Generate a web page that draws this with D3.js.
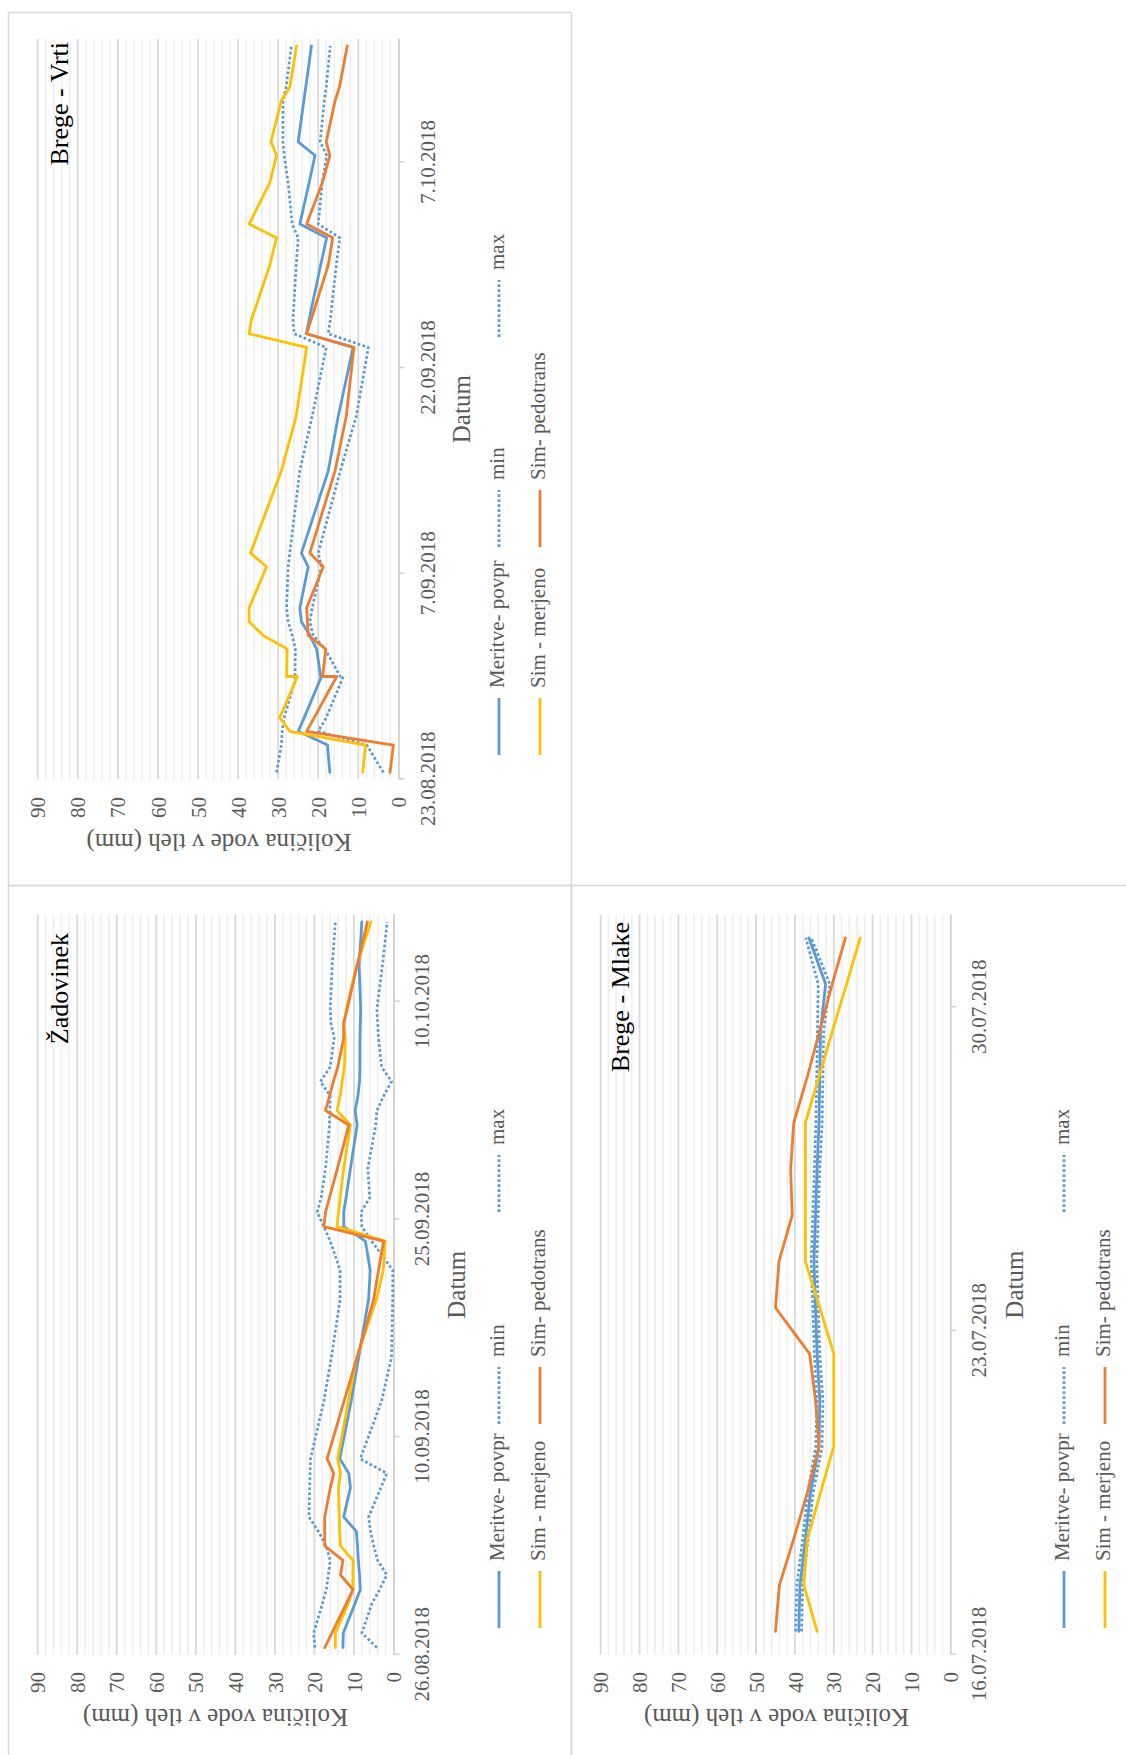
<!DOCTYPE html>
<html>
<head>
<meta charset="utf-8">
<script src="https://cdn.jsdelivr.net/npm/d3@7"></script>
<style>
  html, body { margin: 0; padding: 0; background: #fff; }
  svg { display: block; }
</style>
</head>
<body>
<svg id="chart" width="1126" height="1755"></svg>
<script>
// ---------- data: Brege - Vrti ----------
const vrtiDates = ["23.08.2018","25.08.2018","26.08.2018","27.08.2018","30.08.2018","30.08.2018","1.09.2018","2.09.2018","3.09.2018","4.09.2018","7.09.2018","8.09.2018","14.09.2018","18.09.2018","23.09.2018","24.09.2018","25.09.2018","29.09.2018","1.10.2018","2.10.2018","5.10.2018","7.10.2018","8.10.2018","11.10.2018","12.10.2018","15.10.2018"];
const vrtiPovpr     = [17.1,17.7,25.0,23.5,19.2,19.4,20.4,22.1,24.2,24.6,22.5,24.2,17.5,15.0,11.3,23.0,22.3,19.4,17.9,24.6,22.3,20.8,25.0,23.6,23.1,21.7];
const vrtiMin       = [3.75,7.9,20.0,18.0,13.75,14.5,18.3,21.25,22.1,21.5,19.2,20.0,14.5,10.5,7.5,17.5,17.0,15.5,14.6,20.0,19.0,17.9,19.5,18.5,18.0,17.0];
const vrtiMax       = [30.4,29.2,29.0,28.5,25.5,25.8,25.7,26.5,27.5,27.9,27.5,27.1,24.6,21.5,18.0,26.0,26.3,25.5,25.0,26.5,27.5,28.5,28.8,28.8,28.0,26.7];
const vrtiMerjeno   = [8.9,8.2,27.1,29.6,25.2,27.9,27.75,33.75,37.25,37.25,32.9,36.9,29.2,25.5,22.9,37.25,36.7,32.1,30.4,37.25,32.1,30.4,31.8,29.2,27.1,25.4];
const vrtiPedotrans = [2.1,1.25,22.9,21.0,15.4,18.9,18.1,22.5,22.7,22.9,18.75,22.1,15.8,13.0,11.1,22.9,21.8,17.5,16.4,22.9,19.0,17.1,18.0,15.8,14.7,12.75];
const vrtiTicks = ["23.08.2018","7.09.2018","22.09.2018","7.10.2018"];

// ---------- data: Žadovinek ----------
const zadDates = ["26.08.2018","27.08.2018","29.08.2018","30.08.2018","31.08.2018","1.09.2018","2.09.2018","3.09.2018","4.09.2018","6.09.2018","7.09.2018","8.09.2018","12.09.2018","15.09.2018","19.09.2018","21.09.2018","23.09.2018","24.09.2018","25.09.2018","26.09.2018","28.09.2018","1.10.2018","2.10.2018","3.10.2018","4.10.2018","5.10.2018","7.10.2018","8.10.2018","9.10.2018","12.10.2018","15.10.2018"];
const zadPovpr     = [12.8,12.7,9.8,8.4,8.6,8.9,9.1,9.4,12.6,10.9,11.3,13.6,10.7,8.8,6.3,5.9,7.1,12.6,12.6,12.0,10.9,9.2,9.7,9.0,8.6,8.5,8.5,8.4,8.3,8.7,8.0];
const zadMin       = [4.2,8.0,5.5,3.5,1.7,4.0,5.0,5.8,6.3,3.2,1.7,8.4,3.0,0.5,0.2,0.2,5.5,8.0,8.2,6.0,6.5,4.5,4.2,2.5,0.5,3.0,3.8,4.0,4.2,2.8,1.6];
const zadMax       = [19.9,20.2,18.0,17.0,16.5,16.0,17.0,19.0,21.4,21.2,21.1,21.0,17.6,15.7,13.5,13.5,16.0,17.6,19.3,18.3,17.2,16.2,16.1,16.0,18.5,16.0,15.0,15.8,16.0,15.5,14.7];
const zadMerjeno   = [14.7,14.7,11.5,10.25,10.25,10.25,13.4,13.6,13.7,13.9,13.4,14.1,11.4,9.3,4.3,2.6,2.1,14.3,13.9,13.5,12.6,10.9,14.3,13.5,13.0,12.4,12.2,12.6,11.9,9.3,5.7];
const zadPedotrans = [17.4,15.6,12.0,10.25,13.4,12.8,17.4,17.4,17.4,16.0,15.1,16.8,12.5,9.2,5.0,3.8,2.5,17.6,17.2,16.2,14.2,11.3,17.2,16.2,15.2,14.1,12.6,12.6,11.7,9.2,6.6];
const zadTicks = ["26.08.2018","10.09.2018","25.09.2018","10.10.2018"];

// ---------- data: Brege - Mlake ----------
const mlakeDates = ["16.07.2018","17.07.2018","18.07.2018","19.07.2018","20.07.2018","21.07.2018","22.07.2018","23.07.2018","24.07.2018","25.07.2018","26.07.2018","27.07.2018","28.07.2018","29.07.2018","30.07.2018","31.07.2018"];
const mlakePovpr     = [39.0,38.7,37.3,36.0,33.8,33.6,34.3,34.7,35.1,34.7,34.3,33.8,33.6,33.4,32.1,36.4];
const mlakeMin       = [38.3,38.0,36.6,35.3,33.0,32.8,33.6,34.0,34.4,34.0,33.6,33.0,32.8,32.6,31.0,35.8];
const mlakeMax       = [39.8,39.5,38.0,36.7,34.6,34.4,35.0,35.4,35.8,35.4,35.0,34.6,34.4,34.2,34.0,37.2];
const mlakeMerjeno   = [34.3,37.7,36.8,33.4,30.0,30.0,30.0,33.6,37.3,37.3,37.3,37.3,33.8,30.3,26.7,23.2];
const mlakePedotrans = [45.0,44.0,40.3,36.8,33.8,34.7,36.2,45.0,44.1,40.7,41.1,40.3,36.8,33.6,30.4,27.0];
const mlakeTicks = ["16.07.2018","23.07.2018","30.07.2018"];

// shared
const valueTicks = [0,10,20,30,40,50,60,70,80,90];
const seriesNames = ["Meritve- povpr","min","max","Sim - merjeno","Sim- pedotrans"];
const yTitle = "Količina vode v tleh (mm)";
const xTitle = "Datum";

// ---------- helpers ----------
const parseDate = s => { const [d, m, y] = s.split(".").map(Number); return new Date(Date.UTC(y, m - 1, d)); };
const HALF_DAY = 12 * 3600 * 1000;
const FONT = "'Liberation Serif','Times New Roman',serif";
const TEXT_GREY = "#595959";

const styles = {
  "Meritve- povpr": { color: "#5B9BD5", dash: null },
  "min":            { color: "#5B9BD5", dash: "2.7 2.3" },
  "max":            { color: "#5B9BD5", dash: "2.7 2.3" },
  "Sim - merjeno":  { color: "#FFC000", dash: null },
  "Sim- pedotrans": { color: "#ED7D31", dash: null }
};

// each panel is drawn upright inside a group that is turned a quarter turn
const panels = [
  {
    title: "Brege - Vrti", dates: vrtiDates, ticks: vrtiTicks, start: "23.08.2018", end: "16.10.2018",
    values: [vrtiPovpr, vrtiMin, vrtiMax, vrtiMerjeno, vrtiPedotrans],
    frame: { x: 8.5, y: 12.5, w: 563, h: 873 },
    lay: { left: 8, base: 884, u0: 104.7, u1: 845, v0: 390.4, v90: 29.7,
           titleEnd: 842, titleBase: 60, labU: 87, dateBase: 427, xTitleBase: 462,
           legRows: [496, 537], legCols: [129, 337, 547], yTitleU: 42, yTitleV: 211 }
  },
  {
    title: "Žadovinek", dates: zadDates, ticks: zadTicks, start: "26.08.2018", end: "16.10.2018",
    values: [zadPovpr, zadMin, zadMax, zadMerjeno, zadPedotrans],
    frame: { x: 8.5, y: 885.5, w: 563, h: 900 },
    lay: { left: 8, base: 1765, u0: 110.2, u1: 850.4, v0: 385.5, v90: 29.7,
           titleEnd: 832, titleBase: 60, labU: 93, dateBase: 421, xTitleBase: 457,
           legRows: [496, 537], legCols: [137, 341, 553], yTitleU: 48, yTitleV: 207.5 }
  },
  {
    title: "Brege - Mlake", dates: mlakeDates, ticks: mlakeTicks, start: "16.07.2018", end: "1.08.2018",
    values: [mlakePovpr, mlakeMin, mlakeMax, mlakeMerjeno, mlakePedotrans],
    frame: { x: 571.5, y: 885.5, w: 600, h: 900 },
    lay: { left: 571, base: 1765, u0: 110.5, u1: 850.3, v0: 379.3, v90: 29.7,
           titleEnd: 843, titleBase: 58, labU: 93, dateBase: 415, xTitleBase: 451.5,
           legRows: [498, 539], legCols: [137, 341, 553], yTitleU: 48, yTitleV: 205.5 }
  }
];

const svg = d3.select("#chart");

function drawPanel(p) {
  const L = p.lay;

  svg.append("rect")
    .attr("x", p.frame.x).attr("y", p.frame.y)
    .attr("width", p.frame.w).attr("height", p.frame.h)
    .attr("fill", "none").attr("stroke", "#d9d9d9").attr("stroke-width", 1.5);

  const g = svg.append("g").attr("transform", `translate(${L.left},${L.base}) rotate(-90)`);

  const x = d3.scaleUtc().domain([parseDate(p.start), parseDate(p.end)]).range([L.u0, L.u1]);
  const y = d3.scaleLinear().domain([0, 90]).range([L.v0, L.v90]);

  // horizontal grid: minor every 2, major every 10
  g.append("g").selectAll("line").data(d3.range(2, 91, 2)).join("line")
    .attr("x1", L.u0).attr("x2", L.u1)
    .attr("y1", d => y(d)).attr("y2", d => y(d))
    .attr("stroke", d => d % 10 === 0 ? "#d9d9d9" : "#f0f0f0")
    .attr("stroke-width", 1.8);

  // value axis labels
  const ya = g.append("g").attr("transform", `translate(${L.u0},0)`)
    .call(d3.axisLeft(y).tickValues(valueTicks).tickSize(0).tickPadding(L.u0 - L.labU));
  ya.select(".domain").remove();
  ya.selectAll("text")
    .attr("font-family", FONT).attr("font-size", 21).attr("fill", TEXT_GREY).attr("dy", "0.34em");

  // date axis
  const tickDates = p.ticks.map(parseDate);
  const xa = g.append("g").attr("transform", `translate(0,${L.v0})`)
    .call(d3.axisBottom(x).tickValues(tickDates).tickFormat((d, i) => p.ticks[i]).tickSize(6).tickSizeOuter(0));
  xa.select(".domain").attr("stroke", "#d0d0d0").attr("stroke-width", 1.8);
  xa.selectAll(".tick line").attr("stroke", "#d0d0d0").attr("stroke-width", 1.5);
  xa.selectAll(".tick text")
    .attr("y", L.dateBase - L.v0).attr("dy", 0)
    .attr("font-family", FONT).attr("font-size", 21).attr("fill", TEXT_GREY);

  // series
  const line = d3.line().x(d => x(d.t)).y(d => y(d.v));
  seriesNames.forEach((name, si) => {
    const pts = p.dates.map((d, i) => ({ t: new Date(parseDate(d).getTime() + HALF_DAY), v: p.values[si][i] }));
    const st = styles[name];
    g.append("path")
      .attr("d", line(pts))
      .attr("fill", "none")
      .attr("stroke", st.color)
      .attr("stroke-width", st.dash ? 2.7 : 2.8)
      .attr("stroke-linejoin", "round")
      .attr("stroke-linecap", st.dash ? "butt" : "round")
      .attr("stroke-dasharray", st.dash);
  });

  // panel title
  g.append("text")
    .attr("x", L.titleEnd).attr("y", L.titleBase)
    .attr("text-anchor", "end")
    .attr("font-family", FONT).attr("font-size", 26).attr("fill", "#000")
    .text(p.title);

  // axis titles
  g.append("text")
    .attr("x", (L.u0 + L.u1) / 2).attr("y", L.xTitleBase)
    .attr("text-anchor", "middle")
    .attr("font-family", FONT).attr("font-size", 25).attr("fill", TEXT_GREY)
    .text(xTitle);

  g.append("text")
    .attr("transform", `translate(${L.yTitleU},${L.yTitleV}) rotate(-90)`)
    .attr("text-anchor", "middle").attr("dy", "0.33em")
    .attr("font-family", FONT).attr("font-size", 25).attr("fill", TEXT_GREY)
    .text(yTitle);

  // legend: two rows, three columns
  const slots = [[0, 0], [0, 1], [0, 2], [1, 0], [1, 1]];
  seriesNames.forEach((name, i) => {
    const [r, c] = slots[i];
    const st = styles[name];
    const u = L.legCols[c], v = L.legRows[r];
    g.append("line")
      .attr("x1", u).attr("x2", u + 57).attr("y1", v - 5).attr("y2", v - 5)
      .attr("stroke", st.color).attr("stroke-width", 2.8)
      .attr("stroke-dasharray", st.dash);
    g.append("text")
      .attr("x", u + 67).attr("y", v)
      .attr("font-family", FONT).attr("font-size", 21).attr("fill", TEXT_GREY)
      .text(name);
  });
}

panels.forEach(drawPanel);
</script>
</body>
</html>
